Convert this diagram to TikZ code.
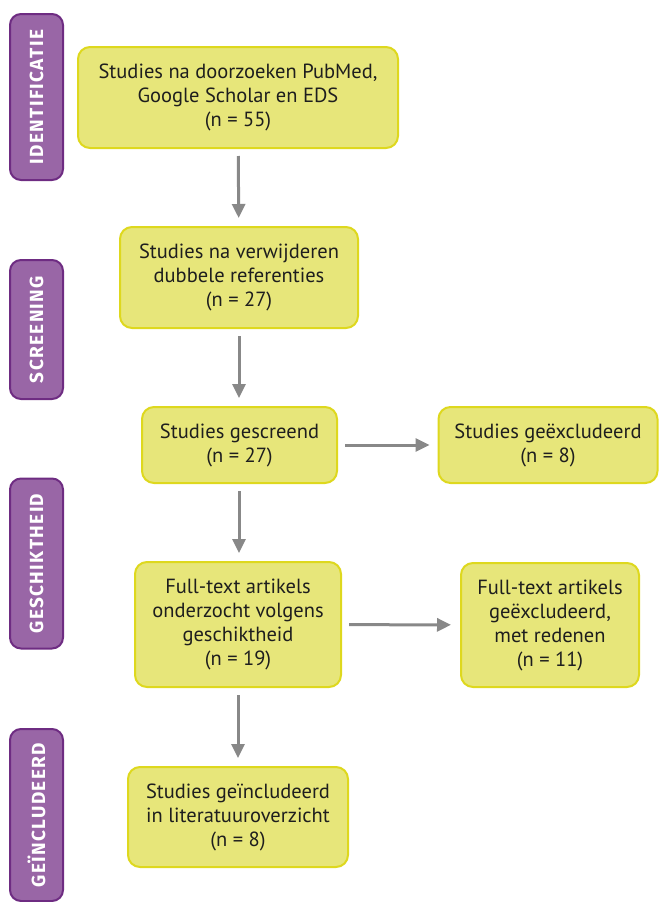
\documentclass[tikz,border=0pt]{standalone}
\usepackage{fontspec}
\setmainfont{PT Sans}
\newfontfamily\phasefont[LetterSpace=7]{Fira Sans}
\usetikzlibrary{arrows.meta,positioning}
\definecolor{boxfill}{RGB}{231, 230, 122}
\definecolor{boxline}{RGB}{222, 216, 30}
\definecolor{phasefill}{RGB}{153, 102, 166}
\definecolor{phaseline}{RGB}{110, 44, 130}
\definecolor{arrowgray}{RGB}{136, 136, 136}
\definecolor{fontgray}{RGB}{30, 30, 30}

\begin{document}
\begin{tikzpicture}[x=1pt, y=-1pt, >={Triangle[width=13pt,length=14pt]},
	stepbox/.style={draw=boxline, fill=boxfill, line width=2pt, rounded corners=12pt, align=center, inner sep=0pt, text=fontgray, font=\fontsize{20.5}{24}\selectfont},
	phasebox/.style={draw=phaseline, fill=phasefill, line width=2pt, rounded corners=11pt, rotate=90, inner sep=0pt, minimum height=53pt, text=white, font=\phasefont\bfseries\fontsize{19}{19}\selectfont},
	flowLine/.style={line width=3pt, ->, color=arrowgray, shorten <=7pt, shorten >=8pt}
	]
	\useasboundingbox (0,0) rectangle (659,902);

	% phases
	\node[phasebox, minimum width=166pt] (ident) at (36.5,97) {IDENTIFICATIE};
	\node[phasebox, minimum width=139pt] (screen) at (36.5,329.5) {SCREENING};
	\node[phasebox, minimum width=170pt] (geschikt) at (36.5,563.5) {GESCHIKTHEID};
	\node[phasebox, minimum width=172pt] (incl) at (36.5,815) {GEÏNCLUDEERD};

	% steps
	\node[stepbox, minimum width=320pt, minimum height=101pt] (zoek) at (238,97.5) {Studies na doorzoeken PubMed,\\Google Scholar en EDS\\(n = 55)};
	\node[stepbox, minimum width=238pt, minimum height=101pt] (dubbel) at (239,277.5) {Studies na verwijderen\\dubbele referenties\\(n = 27)};
	\node[stepbox, minimum width=195pt, minimum height=76pt] (gescreend) at (239.5,445) {Studies gescreend\\(n = 27)};
	\node[stepbox, minimum width=219pt, minimum height=76pt] (excl) at (548,445) {Studies geëxcludeerd\\(n = 8)};
	\node[stepbox, minimum width=206pt, minimum height=125pt] (fulltext) at (238,624.5) {Full-text artikels\\onderzocht volgens\\geschiktheid\\(n = 19)};
	\node[stepbox, minimum width=178pt, minimum height=124pt] (ftexcl) at (550,625) {Full-text artikels\\geëxcludeerd,\\met redenen\\(n = 11)};
	\node[stepbox, minimum width=220pt, minimum height=100pt] (opgenomen) at (238,817) {Studies geïncludeerd\\in literatuuroverzicht\\(n = 8)};

	% arrows
	\draw[flowLine] (zoek) -- (dubbel);
	\draw[flowLine] (dubbel) -- (gescreend.north -| dubbel.south);
	\draw[flowLine] (gescreend.south -| dubbel.south) -- (fulltext.north -| dubbel.south);
	\draw[flowLine] (fulltext) -- (opgenomen);
	\draw[flowLine] (gescreend) -- (excl);
	\draw[flowLine, shorten >=9pt] (fulltext) -- (ftexcl);
\end{tikzpicture}
\end{document}
